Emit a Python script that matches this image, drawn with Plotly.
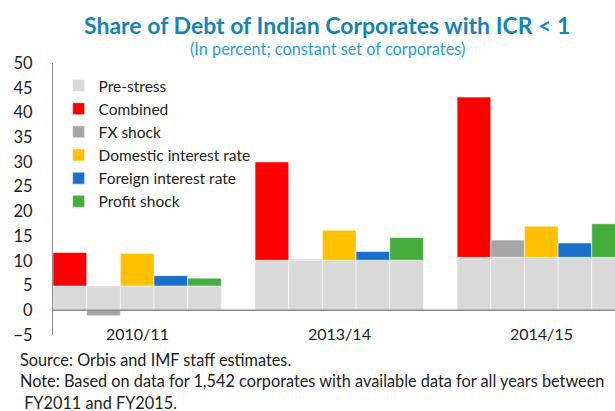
import plotly.graph_objects as go

years = ["2010/11", "2013/14", "2014/15"]
pre_stress = [4.9, 10.1, 10.7]
scenarios = ["Combined", "FX shock", "Domestic interest rate", "Foreign interest rate", "Profit shock"]
# total share of debt with ICR<1 under each scenario
combined = [11.7, 30.0, 43.1]
domestic = [11.5, 16.2, 17.0]
foreign = [7.0, 11.9, 13.6]
profit = [6.5, 14.7, 17.5]
# FX shock change vs pre-stress (2010/11 is negative and stacked below zero)
fx_increment = [-1.1, 0.2, 3.5]

colors = {"Pre-stress": "#d9d9d9", "Combined": "#ff0000", "FX shock": "#a6a6a6",
          "Domestic interest rate": "#ffc000", "Foreign interest rate": "#1a70c8",
          "Profit shock": "#44ad3b"}

totals = {"Combined": combined, "Domestic interest rate": domestic,
          "Foreign interest rate": foreign, "Profit shock": profit}

def increments(name):
    if name == "FX shock":
        return fx_increment
    return [t - p for t, p in zip(totals[name], pre_stress)]

edge = dict(color="rgba(255,255,255,0.55)", width=1)
font = "Lato, 'Open Sans', sans-serif"

fig = go.Figure()
for i, s in enumerate(scenarios):
    fig.add_trace(go.Bar(x=years, y=pre_stress, name="Pre-stress", offsetgroup=s,
                         marker=dict(color=colors["Pre-stress"], line=edge),
                         legendgroup="pre", showlegend=(i == 0)))
for s in scenarios:
    inc = increments(s)
    base = [p if v >= 0 else 0 for p, v in zip(pre_stress, inc)]
    fig.add_trace(go.Bar(x=years, y=inc, base=base, name=s, offsetgroup=s,
                         marker=dict(color=colors[s], line=edge)))

fig.update_layout(
    width=615, height=411,
    margin=dict(l=53, r=0, t=63, b=76),
    barmode="group", bargap=1/6, bargroupgap=0,
    plot_bgcolor="white", paper_bgcolor="white",
    font=dict(family=font, size=16, color="#222222"),
    showlegend=True,
    legend=dict(x=0.01, y=0.978, xanchor="left", yanchor="top",
                bgcolor="rgba(0,0,0,0)", font=dict(size=15.5, color="#222222"),
                itemwidth=30, traceorder="normal"),
    xaxis=dict(range=[-0.4167, 2.365], showticklabels=False, showgrid=False,
               zeroline=False, showline=False, fixedrange=True),
    yaxis=dict(range=[-5, 50], dtick=5, showgrid=False, zeroline=False,
               showline=True, linecolor="#8c8c8c", linewidth=1, ticks="",
               ticklabelstandoff=16, layer="above traces", fixedrange=True,
               tickfont=dict(size=16.5, color="#222222")),
)

# zero baseline drawn above the bars
fig.add_hline(y=0, line=dict(color="#8c8c8c", width=1.5), layer="above")

fig.add_annotation(text="<b>Share of Debt of Indian Corporates with ICR < 1</b>",
                   xref="paper", yref="paper", x=(327-53)/562, y=(335-25)/272,
                   xanchor="center", yanchor="middle", showarrow=False,
                   font=dict(size=23, color="#1585b5", family=font))
fig.add_annotation(text="(In percent; constant set of corporates)",
                   xref="paper", yref="paper", x=(327-53)/562, y=(335-49)/272,
                   xanchor="center", yanchor="middle", showarrow=False,
                   font=dict(size=16.3, color="#2aa0d6", family=font))
for yr in years:
    fig.add_annotation(text=yr, x=yr, y=-4.7, xref="x", yref="y", showarrow=False,
                       xanchor="center", yanchor="middle", font=dict(size=16, color="#222222"))

notes = ["Source: Orbis and IMF staff estimates.",
         "Note: Based on data for 1,542 corporates with available data for all years between",
         "&nbsp;FY2011 and FY2015."]
for k, t in enumerate(notes):
    fig.add_annotation(text=t, xref="paper", yref="paper", x=(18-53)/562,
                       y=(335-(359+k*21.5))/272, xanchor="left", yanchor="middle",
                       showarrow=False, font=dict(size=16.3, color="#222222"))

fig.write_html("out.html", config={"displayModeBar": False, "staticPlot": True},
               post_script="document.body.style.margin='0';document.body.style.overflow='hidden';")
